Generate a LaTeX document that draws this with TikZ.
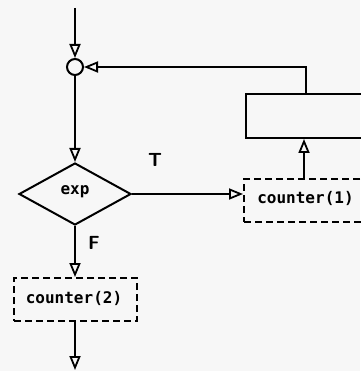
\documentclass[tikz,border=0pt]{standalone}
\usepackage{fontspec}
\setmonofont{DejaVu Sans Mono}
\usetikzlibrary{arrows.meta,shapes.geometric}
\begin{document}
\begin{tikzpicture}[x=1pt,y=-1pt,line width=2pt,
  tip/.style={-{Triangle[open,length=14pt,width=11pt,line width=1.8pt]}},
  dbox/.style={draw,dashed,dash pattern=on 7pt off 4pt,minimum height=43pt,inner sep=0pt},
  lbl/.style={font=\ttfamily\bfseries\fontsize{16}{16}\selectfont},
  tf/.style={font=\sffamily\bfseries\fontsize{19}{19}\selectfont}]
\useasboundingbox (0,0) rectangle (360,371);
\fill[white!94!gray] (0,0) rectangle (360,371);
\coordinate (start) at (75,8);
\node[draw,circle,minimum size=16pt,inner sep=0pt,line width=2pt] (join) at (75,67) {};
\node[draw,diamond,minimum width=112pt,minimum height=62pt,inner sep=0pt] (dec) at (75,194) {};
\node[lbl] at (75,192) {exp};
\node[draw,minimum width=130pt,minimum height=44pt,anchor=north west] (body) at (245,93) {};
\node[dbox,minimum width=130pt,anchor=north west] (c1) at (243,178) {};
\node[lbl,anchor=west] (c1t) at (253,198) {counter(1)};
\node[dbox,minimum width=123pt,anchor=north west] (c2) at (13,277) {};
\node[lbl] (c2t) at (74,298) {counter(2)};
\coordinate (end) at (75,370);
\node[tf] at (155,160) {T};
\node[tf] at (94,243) {F};
\draw[tip] (start) -- (join.north);
\draw[tip] (join.south) -- (dec.north);
\draw[tip] (dec.east) -- (c1.west |- dec.east);
\draw[tip] (c1.north -| 304,0) -- (body.south -| 304,0);
\draw[tip] (body.north -| 306,0) -- (306,67) -- (join.east);
\draw[tip] (dec.south) -- (c2.north -| dec.south);
\draw[tip] (c2.south -| dec.south) -- (end);
\end{tikzpicture}
\end{document}
